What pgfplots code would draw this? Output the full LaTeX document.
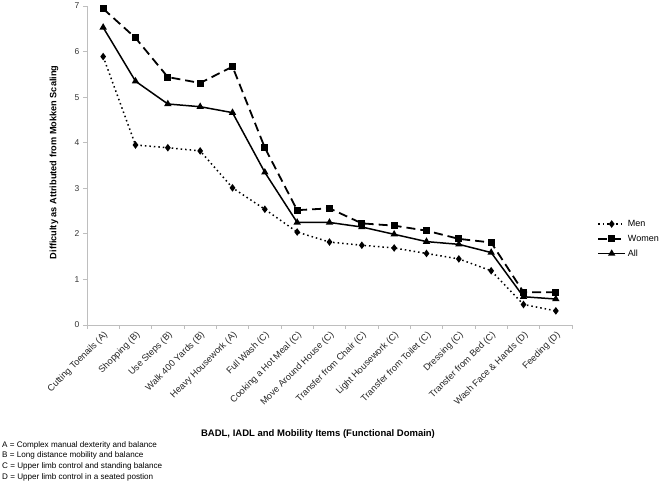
\documentclass[border=0pt]{standalone}
\usepackage{fontspec}
\setmainfont{Liberation Sans}
\usepackage{pgfplots}
\pgfplotsset{compat=1.18}
\definecolor{axgray}{RGB}{190,190,190}
\begin{document}
\begin{tikzpicture}
\useasboundingbox (-87pt,-159pt) rectangle (574pt,325pt);
\begin{axis}[
  at={(0,0)}, anchor=south west,
  scale only axis, width=485pt, height=319pt,
  xmin=-0.5, xmax=14.5, ymin=0, ymax=7,
  axis x line*=bottom, axis y line*=left,
  axis line style={axgray, line width=0.8pt},
  ytick={0,1,...,7},
  xtick={0,...,14},
  minor xtick={-0.5,0.5,...,14.5},
  major x tick style={draw=none},
  minor tick length=4pt,
  major tick length=4pt,
  tick align=outside,
  tick style={axgray, line width=0.8pt},
  xticklabels={Cutting Toenails (A),Shopping (B),Use Steps (B),Walk 400 Yards (B),Heavy Housework (A),Full Wash (C),Cooking a Hot Meal (C),Move Around House (C),Transfer from Chair (C),Light Housework (C),Transfer from Toilet (C),Dressing (C),Transfer from Bed (C),Wash Face \& Hands (D),Feeding (D)},
  x tick label style={rotate=45, anchor=north east, font=\fontsize{9.2}{10}\selectfont, inner sep=1pt, text=black!85},
  y tick label style={font=\fontsize{8.5}{10}\selectfont, text=black!80},
  /pgf/number format/assume math mode=true,
  ylabel={\bfseries Difficulty as Attributed from Mokken Scaling},
  ylabel style={at={(axis description cs:-0.068,0.51)}, anchor=center, font=\fontsize{9.2}{10}\selectfont},
  legend style={at={(axis description cs:1.052,0.27)}, anchor=west, draw=none, fill=none,
    font=\fontsize{9}{10}\selectfont, row sep=3pt, inner sep=0pt},
  legend cell align=left,
  legend image code/.code={\draw[mark repeat=2,mark phase=2,#1] plot coordinates {(0cm,0cm) (0.47cm,0cm) (0.94cm,0cm)};},
  clip=false,
]
\addplot[black, line width=1.5pt, dash pattern=on 1.5pt off 3pt, mark=diamond*, mark size=2.6pt, mark options={solid}] coordinates {
(0,5.89) (1,3.95) (2,3.89) (3,3.82) (4,3.01) (5,2.54) (6,2.04) (7,1.82) (8,1.75) (9,1.69) (10,1.57) (11,1.45) (12,1.19) (13,0.45) (14,0.31)};
\addlegendentry{Men}
\addplot[black, line width=1.8pt, dash pattern=on 9pt off 5pt, mark=square*, mark size=2.6pt, mark options={solid}] coordinates {
(0,6.94) (1,6.30) (2,5.44) (3,5.31) (4,5.67) (5,3.89) (6,2.52) (7,2.56) (8,2.23) (9,2.18) (10,2.07) (11,1.89) (12,1.81) (13,0.72) (14,0.72)};
\addlegendentry{Women}
\addplot[black, line width=1.5pt, mark=triangle*, mark size=2.8pt] coordinates {
(0,6.53) (1,5.35) (2,4.85) (3,4.79) (4,4.66) (5,3.35) (6,2.25) (7,2.25) (8,2.15) (9,1.99) (10,1.83) (11,1.77) (12,1.59) (13,0.62) (14,0.57)};
\addlegendentry{All}
\end{axis}
\node[anchor=center, font=\fontsize{9.5}{10}\selectfont\bfseries] at (231pt,-109pt) {BADL, IADL and Mobility Items (Functional Domain)};
\node[anchor=north west, align=left, inner sep=0pt, font=\fontsize{8.1}{10.8}\selectfont] at (-85pt,-116pt) {A = Complex manual dexterity and balance\\B = Long distance mobility and balance\\C = Upper limb control and standing balance\\D = Upper limb control in a seated postion};
\end{tikzpicture}
\end{document}
